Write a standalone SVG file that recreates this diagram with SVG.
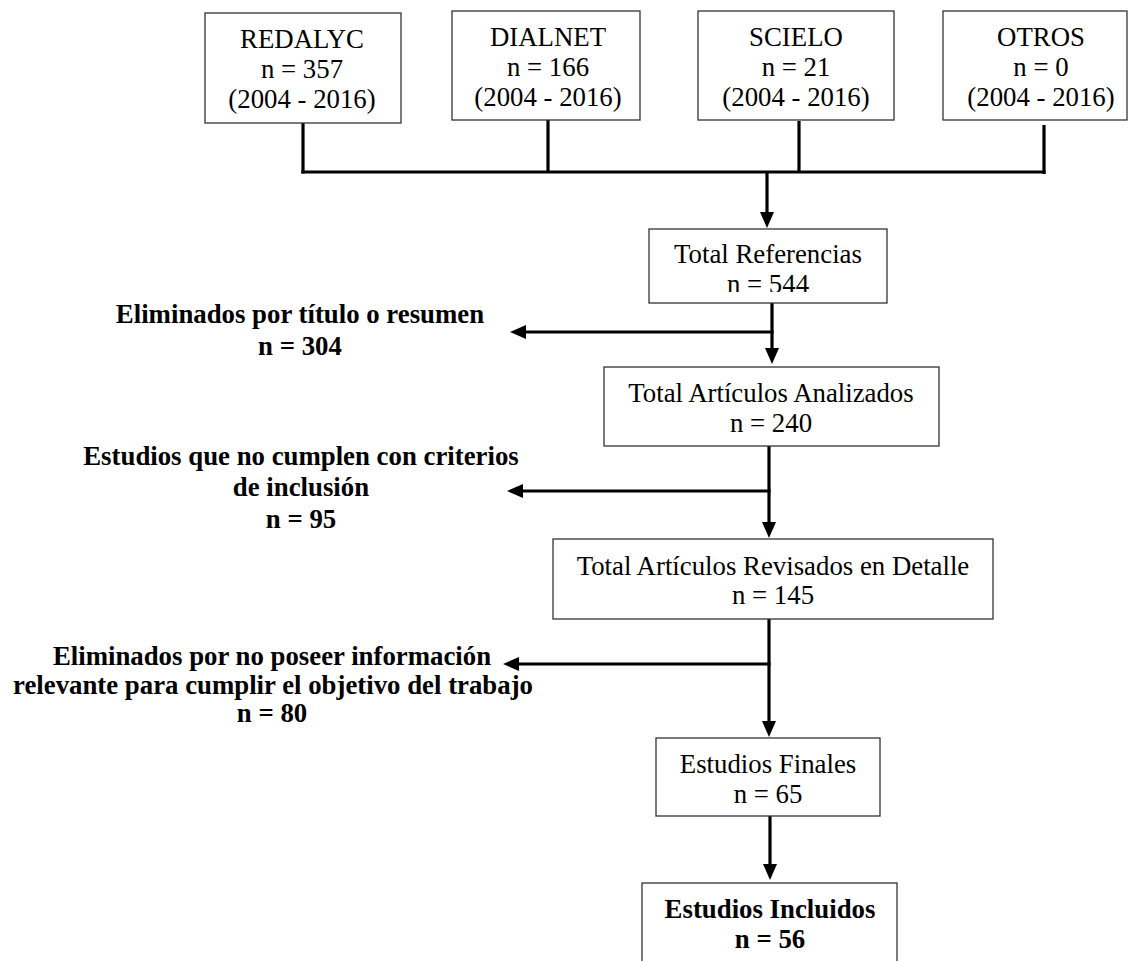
<svg xmlns="http://www.w3.org/2000/svg" width="1129" height="961" viewBox="0 0 1129 961">
<style>
.box{fill:#fff;stroke:#333;stroke-width:1.3}
.t{font-family:"Liberation Serif","Times New Roman",serif;font-size:26.8px;fill:#000;text-anchor:middle}
.b{font-weight:bold}
.c{fill:none;stroke:#000;stroke-width:3.2}
</style>
<defs>
<marker id="ah" markerUnits="userSpaceOnUse" markerWidth="16" markerHeight="14" viewBox="0 0 16 14" refX="6" refY="7" orient="auto">
<path d="M0,0 L16,7 L0,14 z" fill="#000"/>
</marker>
<clipPath id="clipRef"><rect x="649" y="229" width="238" height="63"/></clipPath>
</defs>
<rect width="1129" height="961" fill="#fff"/>
<g id="connectors">
<line class="c" x1="303" y1="123" x2="303" y2="173.6"/>
<line class="c" x1="548" y1="120" x2="548" y2="173"/>
<line class="c" x1="799" y1="121" x2="799" y2="173"/>
<line class="c" x1="1044" y1="125" x2="1044" y2="174"/>
<line class="c" x1="301.4" y1="172" x2="1045.6" y2="172"/>
<line class="c" x1="767" y1="172" x2="767" y2="218" marker-end="url(#ah)"/>
<line class="c" x1="772" y1="303" x2="772" y2="354" marker-end="url(#ah)"/>
<line class="c" x1="773.6" y1="332" x2="520" y2="332" marker-end="url(#ah)"/>
<line class="c" x1="769" y1="446" x2="769" y2="528" marker-end="url(#ah)"/>
<line class="c" x1="770.6" y1="491" x2="517" y2="491" marker-end="url(#ah)"/>
<line class="c" x1="769" y1="619" x2="769" y2="727" marker-end="url(#ah)"/>
<line class="c" x1="770.6" y1="664" x2="513" y2="664" marker-end="url(#ah)"/>
<line class="c" x1="770" y1="816" x2="770" y2="870" marker-end="url(#ah)"/>
</g>
<g id="redalyc">
<rect class="box" x="205" y="13" width="196" height="110"/>
<text class="t" x="302" y="48">REDALYC</text>
<text class="t" x="302" y="78">n = 357</text>
<text class="t" x="302" y="108">(2004 - 2016)</text>
</g>
<g id="dialnet">
<rect class="box" x="452" y="11" width="188" height="109"/>
<text class="t" x="548" y="46">DIALNET</text>
<text class="t" x="548" y="76">n = 166</text>
<text class="t" x="548" y="106">(2004 - 2016)</text>
</g>
<g id="scielo">
<rect class="box" x="698" y="11" width="196" height="109"/>
<text class="t" x="796" y="46">SCIELO</text>
<text class="t" x="796" y="76">n = 21</text>
<text class="t" x="796" y="106">(2004 - 2016)</text>
</g>
<g id="otros">
<rect class="box" x="943" y="11" width="184" height="109"/>
<text class="t" x="1041" y="46">OTROS</text>
<text class="t" x="1041" y="76">n = 0</text>
<text class="t" x="1041" y="106">(2004 - 2016)</text>
</g>
<g id="total-referencias">
<rect class="box" x="649" y="229" width="238" height="74"/>
<g clip-path="url(#clipRef)">
<text class="t" x="768" y="263">Total Referencias</text>
<text class="t" x="768" y="293">n = 544</text>
</g>
</g>
<g id="eliminados-titulo">
<text class="t b" x="300" y="323">Eliminados por título o resumen</text>
<text class="t b" x="300" y="355">n = 304</text>
</g>
<g id="total-analizados">
<rect class="box" x="604" y="367" width="335" height="79"/>
<text class="t" x="771" y="402">Total Artículos Analizados</text>
<text class="t" x="771" y="432">n = 240</text>
</g>
<g id="no-cumplen">
<text class="t b" x="301" y="465">Estudios que no cumplen con criterios</text>
<text class="t b" x="301" y="496">de inclusión</text>
<text class="t b" x="301" y="528">n = 95</text>
</g>
<g id="total-revisados">
<rect class="box" x="553" y="539" width="440" height="80"/>
<text class="t" x="773" y="575">Total Artículos Revisados en Detalle</text>
<text class="t" x="773" y="604">n = 145</text>
</g>
<g id="eliminados-informacion">
<text class="t b" x="272" y="665">Eliminados por no poseer información</text>
<text class="t b" x="273" y="694">relevante para cumplir el objetivo del trabajo</text>
<text class="t b" x="272" y="722">n = 80</text>
</g>
<g id="estudios-finales">
<rect class="box" x="656" y="738" width="224" height="78"/>
<text class="t" x="768" y="773">Estudios Finales</text>
<text class="t" x="768" y="803">n = 65</text>
</g>
<g id="estudios-incluidos">
<rect class="box" x="642" y="883" width="255" height="100"/>
<text class="t b" x="770" y="918">Estudios Incluidos</text>
<text class="t b" x="770" y="948">n = 56</text>
</g>
</svg>
